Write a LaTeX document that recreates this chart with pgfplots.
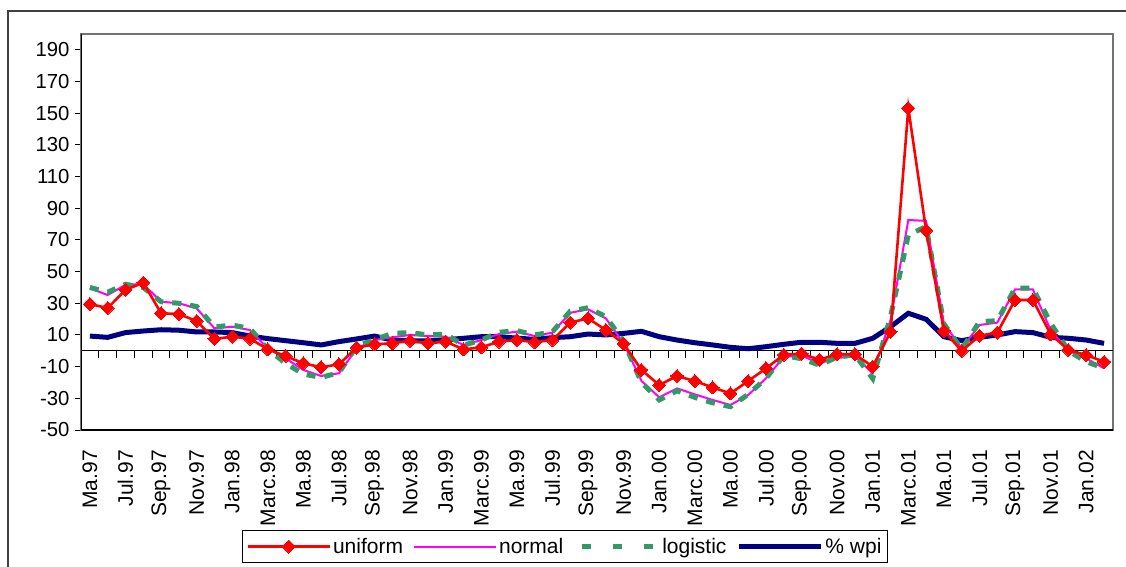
\documentclass[border=0pt]{standalone}
\usepackage{fontspec}
\setmainfont{Liberation Sans}
\usepackage{pgfplots}
\usepackage{pgfplotstable}
\pgfplotsset{compat=1.18}
\definecolor{cuni}{RGB}{255,0,0}
\definecolor{cnor}{RGB}{255,0,255}
\definecolor{clog}{RGB}{51,153,102}
\definecolor{cwpi}{RGB}{0,0,128}

\pgfplotstableread{
i uni nor log wpi
0 29.5 39.5 40 9.3
1 27 35.2 37 8.5
2 38.5 41.6 42 11.5
3 43 42.2 40 12.5
4 23.7 31 31 13.3
5 23.2 30 30 13
6 18.8 26.8 28 11.9
7 7.5 14.2 15 11.9
8 8.9 15.2 16.3 11.5
9 7.7 13.1 14 9.3
10 0.9 1.5 1 7.7
11 -3.3 -4.8 -7.9 6.4
12 -7.9 -12.1 -14.7 5.1
13 -10.4 -15.9 -16.8 3.7
14 -8.5 -14.2 -13.8 5.8
15 2 1.5 3 7.5
16 4.1 6.8 7 9.3
17 4.7 8.5 11 6.8
18 6.4 10 11.5 6.2
19 4.7 9.3 10 6.2
20 5.8 8.9 10.5 7
21 0.9 3.7 3.5 7.9
22 2.2 6.8 6.8 8.9
23 5.8 10.6 11.7 8.9
24 6.8 12.1 12.7 8
25 5.4 9.3 10 7.2
26 6.8 11.5 12 8.3
27 17.8 24 25 8.9
28 20.5 26.2 27.2 10.6
29 13.1 20.5 21.5 10
30 4.5 4.7 6 11
31 -12.1 -19 -20 12.3
32 -21.6 -29.4 -31 8.9
33 -15.9 -23.7 -25.2 6.8
34 -19.1 -27.5 -29.4 5.1
35 -23.1 -31 -32.8 3.7
36 -26.9 -34.2 -35.3 2.2
37 -19.1 -27.9 -27.5 1.3
38 -11.1 -17.4 -17.4 2.6
39 -2.5 -3.8 -3 4.1
40 -1.8 -3 -5 5.4
41 -5.6 -7.9 -9 5.4
42 -2.2 -4.5 -4 4.7
43 -2.2 -3.5 -2.5 4.7
44 -10 -14.2 -17.5 7.9
45 12 19.4 21.5 15.2
46 153.2 82.6 73.1 23.7
47 75.9 82 78.4 19.9
48 12.7 17.4 17 8.9
49 -0.1 1.5 1 6.4
50 9.5 16.3 18.4 8.5
51 11.5 17.8 19 10
52 32.1 38.8 39.5 12.1
53 32.1 38.8 39.5 11.5
54 10.4 13 17.4 8.5
55 0.5 0 0 7.9
56 -2.7 -4.8 -6.9 6.8
57 -6.9 -11 -11 4.7
}\datatable

\begin{document}
\begin{tikzpicture}
\useasboundingbox (0pt,0pt) rectangle (1126pt,566pt);
\draw[black!75, line width=1.3pt] (8pt,-5pt) -- (8pt,555pt) -- (1131pt,555pt);
\begin{axis}[
  at={(81pt,136pt)}, anchor=south west,
  scale only axis, width=1032pt, height=396pt,
  xmin=-0.5, xmax=57.5, ymin=-50, ymax=200,
  ytick={-50,-30,...,190},
  xtick={0,2,...,56},
  xticklabels={Ma.97,Jul.97,Sep.97,Nov.97,Jan.98,Marc.98,Ma.98,Jul.98,Sep.98,Nov.98,Jan.99,Marc.99,Ma.99,Jul.99,Sep.99,Nov.99,Jan.00,Marc.00,Ma.00,Jul.00,Sep.00,Nov.00,Jan.01,Marc.01,Ma.01,Jul.01,Sep.01,Nov.01,Jan.02},
  axis line style={draw=black!55, line width=1.2pt},
  tick align=outside,
  x tick style={draw=none},
  y tick style={black, line width=1pt},
  major tick length=6pt,
  ytick pos=left,
  every tick label/.append style={text=black},
  /pgf/number format/assume math mode=true,
  yticklabel style={xshift=-2pt, font=\fontsize{20.3}{24}\selectfont},
  xticklabel style={rotate=90, anchor=east, inner xsep=14pt, font=\fontsize{21}{25}\selectfont},
  legend columns=4,
  legend style={at={(axis description cs:0.469,-0.2942)}, anchor=center,
    draw=black, line width=0.8pt, inner xsep=4pt, inner ysep=6pt,
    font=\fontsize{21}{25}\selectfont,
    nodes={inner sep=2pt},
    /tikz/every even column/.append style={column sep=8pt}},
  legend image code/.code={\draw[mark repeat=2,mark phase=2,#1] plot coordinates {(0pt,0pt) (41pt,0pt) (82pt,0pt)};},
]
\draw[black, line width=1.2pt] (rel axis cs:0,0) -- (rel axis cs:0,1);
\draw[black, line width=1.2pt] (rel axis cs:0,0) -- (rel axis cs:1,0);
\draw[black, line width=1pt] (axis cs:-0.5,0) -- (axis cs:57.5,0);
\pgfplotsinvokeforeach{0,...,56}{\draw[black, line width=1pt] (axis cs:#1.5,0) -- ++(0pt,-7pt);}
\addlegendimage{cuni, line width=2.6pt, mark=square*, mark size=4.6pt, mark options={rotate=45, solid, fill=cuni, draw=cuni, line width=0pt}}
\addlegendentry{uniform}
\addlegendimage{cnor, line width=2pt}
\addlegendentry{normal}
\addlegendimage{clog, line width=5pt, dash pattern=on 9pt off 22pt, dash phase=-6pt}
\addlegendentry{logistic}
\addlegendimage{cwpi, line width=5pt}
\addlegendentry{\% wpi}
\addplot[cwpi, line width=5pt, forget plot] table[x=i, y=wpi] {\datatable};
\addplot[cnor, line width=2pt, forget plot] table[x=i, y=nor] {\datatable};
\addplot[clog, line width=5pt, dash pattern=on 9pt off 9pt, forget plot] table[x=i, y=log] {\datatable};
\addplot[cuni, line width=2.6pt, mark=square*, mark size=4.6pt, mark options={rotate=45, fill=cuni, draw=cuni, line width=0pt}, forget plot] table[x=i, y=uni] {\datatable};
\end{axis}
\end{tikzpicture}
\end{document}
